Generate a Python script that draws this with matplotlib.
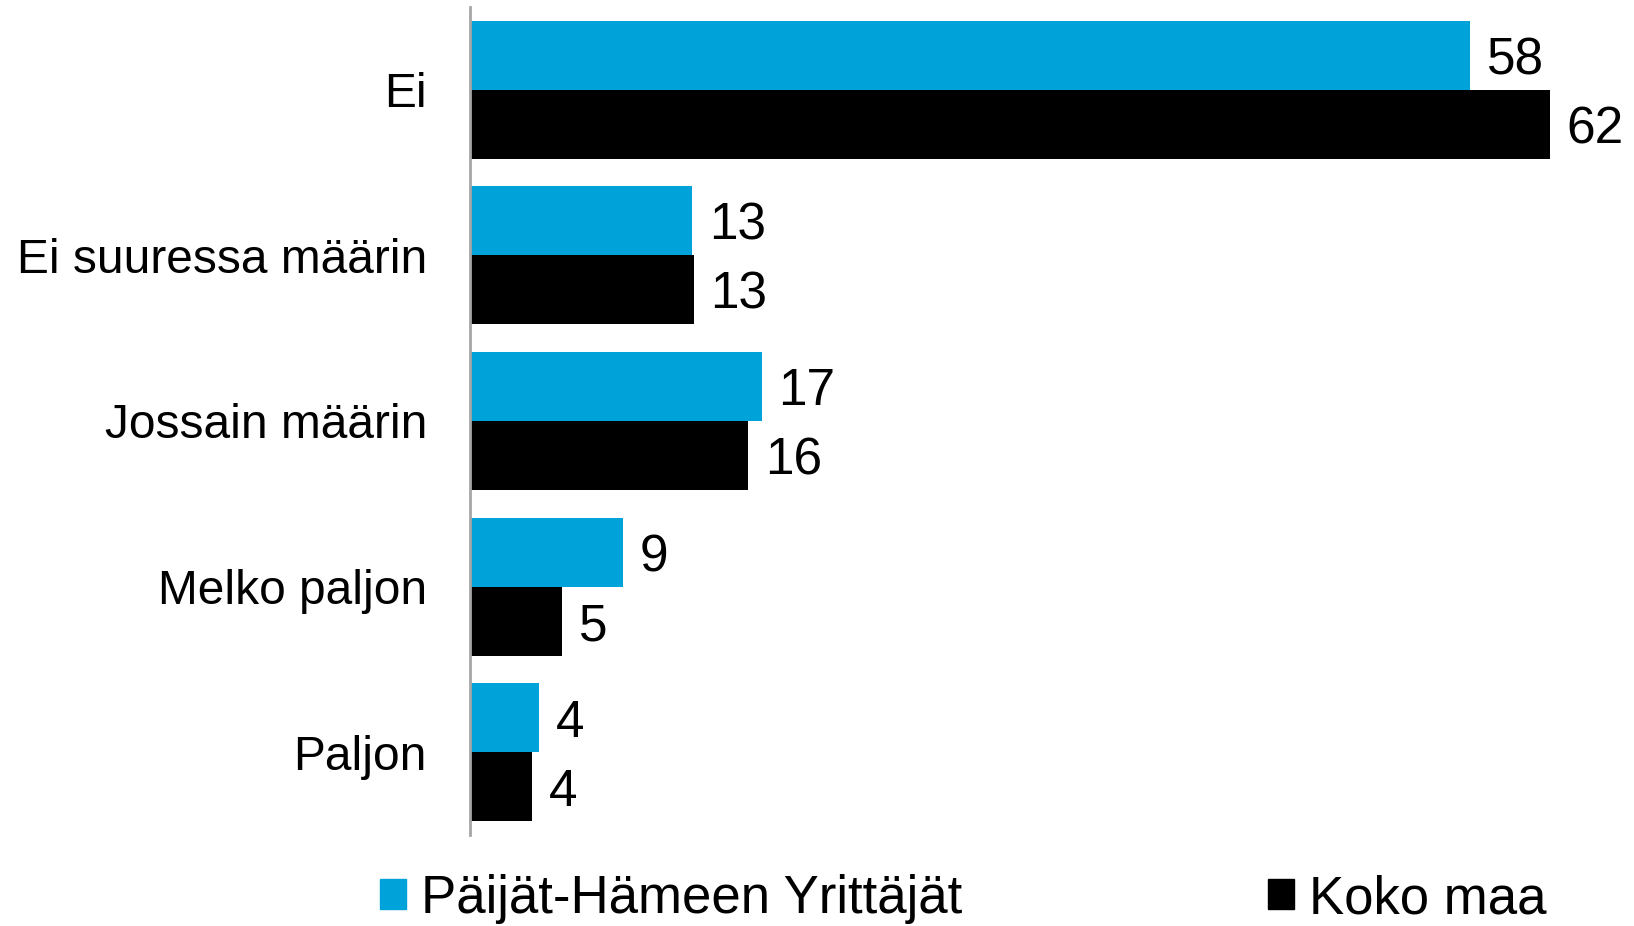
import matplotlib
matplotlib.use("Agg")
import matplotlib.pyplot as plt
from matplotlib.patches import Patch
import numpy as np

plt.rcParams['font.family'] = ['Liberation Sans', 'DejaVu Sans']

# data (bar lengths are not exact integers)
categories = ['Ei', 'Ei suuressa määrin', 'Jossain määrin', 'Melko paljon', 'Paljon']
region_values = [57.4, 12.75, 16.75, 8.8, 3.96]
country_values = [62.0, 12.85, 15.96, 5.28, 3.56]
region_labels = ['58', '13', '17', '9', '4']
country_labels = ['62', '13', '16', '5', '4']
series_names = ['Päijät-Hämeen Yrittäjät', 'Koko maa']

blue = '#00A3D9'
black = '#000000'

fig = plt.figure(figsize=(16.34, 9.26), dpi=100)
W, H = 1634, 926
ax = fig.add_axes([470 / W, 1 - 835 / H, 1 - 470 / W, (835 - 7) / H])

y = np.arange(len(categories))
h = 0.417
ax.barh(y - h / 2, region_values, height=h, color=blue)
ax.barh(y + h / 2, country_values, height=h, color=black)

# value labels next to bar ends
for yy, v, lab in zip(y - h / 2, region_values, region_labels):
    ax.annotate(lab, (v, yy), xytext=(12, 0), textcoords='offset points',
                ha='left', va='center_baseline', fontsize=37)
for yy, v, lab in zip(y + h / 2, country_values, country_labels):
    ax.annotate(lab, (v, yy), xytext=(12, 0), textcoords='offset points',
                ha='left', va='center_baseline', fontsize=37)

ax.set_xlim(0, (W - 470) / 17.42)
ax.set_ylim(len(categories) - 0.5, -0.5)
ax.set_yticks(y)
ax.set_yticklabels(categories, fontsize=34.5)
ax.tick_params(axis='y', length=0, pad=31)
ax.set_xticks([])

for s in ['top', 'right', 'bottom']:
    ax.spines[s].set_visible(False)
ax.spines['left'].set_color('#A6A6A6')
ax.spines['left'].set_linewidth(2)

handles = [Patch(color=blue), Patch(color=black)]
fig.legend(handles, series_names, loc='center left',
           bbox_to_anchor=(380 / W, 1 - 899 / H), ncol=2, frameon=False,
           fontsize=38, borderpad=0, borderaxespad=0,
           handlelength=0.5, handleheight=0.5, handletextpad=0.27,
           columnspacing=5.8)

fig.savefig('out.png', dpi=100)
